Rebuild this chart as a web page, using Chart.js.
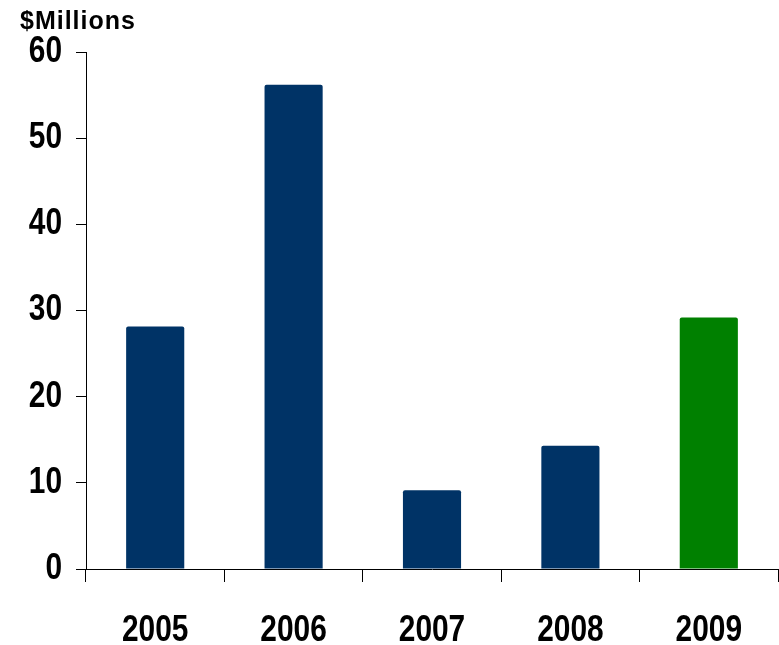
<!DOCTYPE html>
<html>
<head>
<meta charset="utf-8">
<script src="https://cdn.jsdelivr.net/npm/chart.js@4"></script>
<style>
html,body{margin:0;padding:0;background:#fff;}
#wrap{width:779px;height:645px;position:relative;}
</style>
</head>
<body>
<div id="wrap"><canvas id="c" width="779" height="645"></canvas></div>
<script>
const categories = ['2005', '2006', '2007', '2008', '2009'];
const values = [28.15, 56.2, 9.15, 14.3, 29.2];
const barColors = ['#003366', '#003366', '#003366', '#003366', '#008000'];
const yTicks = [0, 10, 20, 30, 40, 50, 60];
const unitLabel = '$Millions';

const tickFont = { family: '"Liberation Sans Narrow", "Arial Narrow", "Liberation Sans", Arial, sans-serif', size: 36, weight: 'bold' };
const CONDENSE = 0.83;

// Draw the library's tick labels horizontally condensed (narrow font look)
function condense(scale) {
  if (scale._condensed) return;
  scale._condensed = true;
  const orig = scale.drawLabels;
  scale.drawLabels = function (area) {
    const ctx = this.ctx;
    const t = ctx.translate;
    ctx.translate = function (x, y) { t.call(this, x, y); this.scale(CONDENSE, 1); };
    try { orig.call(this, area); } finally { ctx.translate = t; }
  };
}

const unitPlugin = {
  id: 'unitLabel',
  afterDraw(chart) {
    const ctx = chart.ctx;
    ctx.save();
    ctx.font = 'bold 25px "Liberation Sans", Arial, sans-serif';
    if ('letterSpacing' in ctx) ctx.letterSpacing = '1px';
    ctx.fillStyle = '#000';
    ctx.textAlign = 'left';
    ctx.textBaseline = 'alphabetic';
    ctx.fillText(unitLabel, chart.chartArea.left - 66, chart.chartArea.top - 23);
    ctx.restore();
  }
};

new Chart(document.getElementById('c'), {
  type: 'bar',
  data: {
    labels: categories,
    datasets: [{
      data: values,
      backgroundColor: barColors,
      borderWidth: 0,
      borderRadius: 2,
      borderSkipped: 'bottom',
      categoryPercentage: 1,
      barPercentage: 0.42
    }]
  },
  options: {
    responsive: false,
    animation: false,
    devicePixelRatio: 1,
    layout: { padding: { top: 52, right: 1, bottom: 0, left: 0 } },
    plugins: { legend: { display: false }, tooltip: { enabled: false } },
    scales: {
      x: {
        offset: true,
        afterFit(scale) { scale.height = 76; },
        afterUpdate: condense,
        grid: { display: true, offset: true, drawOnChartArea: false, drawTicks: true, tickLength: 13, color: '#000', lineWidth: 1 },
        border: { display: true, color: '#000', width: 1 },
        ticks: { color: '#000', font: tickFont, padding: 27, maxRotation: 0, autoSkip: false }
      },
      y: {
        min: 0, max: 60,
        afterBuildTicks(scale) { scale.ticks = yTicks.map(v => ({ value: v })); },
        afterFit(scale) { scale.width = 86; },
        afterUpdate: condense,
        grid: { display: true, drawOnChartArea: false, drawTicks: true, tickLength: 10, color: '#000', lineWidth: 1 },
        border: { display: true, color: '#000', width: 1 },
        ticks: { color: '#000', font: tickFont, padding: 14 }
      }
    }
  },
  plugins: [unitPlugin]
});
</script>
</body>
</html>
